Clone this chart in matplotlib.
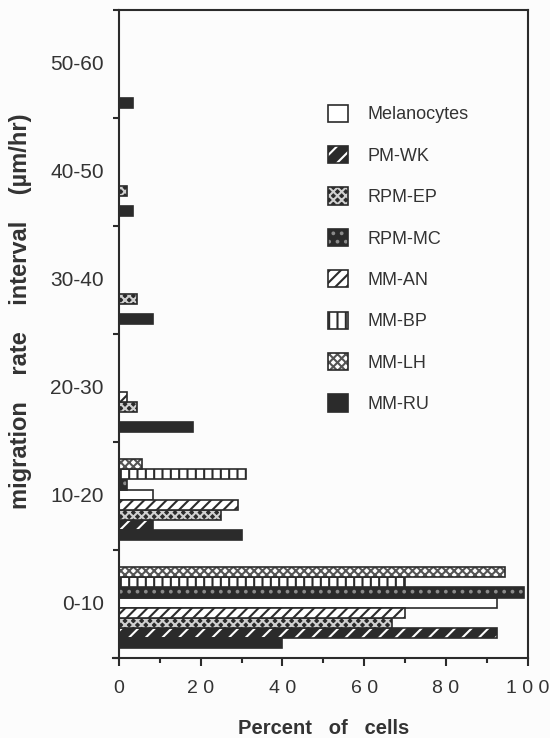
import numpy as np
import matplotlib
matplotlib.use("Agg")
import matplotlib.pyplot as plt
from matplotlib.patches import Patch
from matplotlib.legend_handler import HandlerTuple
from matplotlib.transforms import blended_transform_factory

# rate intervals (um/hr)
intervals = ['0-10', '10-20', '20-30', '30-40', '40-50', '50-60']

# series in legend order, values = percent of cells per interval
series = ['Melanocytes', 'PM-WK', 'RPM-EP', 'RPM-MC', 'MM-AN', 'MM-BP', 'MM-LH', 'MM-RU']
melanocytes = [92.5, 8.2, 0, 0, 0, 0]
pm_wk = [92.5, 8.2, 0, 0, 0, 0]
rpm_ep = [66.8, 25.0, 4.5, 4.3, 2.0, 0]
rpm_mc = [99.0, 2.0, 0, 0, 0, 0]
mm_an = [70.0, 29.0, 2.0, 0, 0, 0]
mm_bp = [70.0, 31.0, 0, 0, 0, 0]
mm_lh = [94.5, 5.7, 0, 0, 0, 0]
mm_ru = [40.0, 30.0, 18.0, 8.3, 3.3, 3.3]
values = [melanocytes, pm_wk, rpm_ep, rpm_mc, mm_an, mm_bp, mm_lh, mm_ru]

# order of bars inside a group, bottom to top
stack_order = ['MM-RU', 'PM-WK', 'RPM-EP', 'MM-AN', 'Melanocytes', 'RPM-MC', 'MM-BP', 'MM-LH']

DARK = '#2b2b2b'
TXT = '#333333'
# fill colour, hatch, hatch colour
looks = {
    'Melanocytes': ('white', None, DARK),
    'PM-WK': (DARK, '//', 'white'),
    'RPM-EP': (DARK, 'xxxx', '#d0d0d0'),
    'RPM-MC': (DARK, '..', '#8a8a8a'),
    'MM-AN': ('white', '///', DARK),
    'MM-BP': ('white', '||', DARK),
    'MM-LH': ('white', 'xxxx', '#555555'),
    'MM-RU': (DARK, None, DARK),
}

plt.rcParams['font.family'] = ['Liberation Sans', 'DejaVu Sans']
plt.rcParams['hatch.linewidth'] = 1.5

fig = plt.figure(figsize=(5.5, 7.38), dpi=100, facecolor='#fcfcfc')
ax = fig.add_axes([0.2164, 0.1084, 0.743, 0.878])
ax.set_facecolor('#fcfcfc')

bar_h = 0.93
base = np.arange(len(intervals)) * 10 + 0.95
for name, vals in zip(series, values):
    k = stack_order.index(name)
    y = base + bar_h * k + bar_h / 2
    face, hatch, hcol = looks[name]
    ax.barh(y, vals, height=bar_h, color=face, edgecolor=hcol, hatch=hatch, linewidth=0)
    ax.barh(y, vals, height=bar_h, fill=False, edgecolor=DARK, linewidth=1.2)

ax.set_xlim(0, 100)
ax.set_ylim(0, 60)
for s in ax.spines.values():
    s.set_linewidth(1.5)
    s.set_color(DARK)
ax.spines['bottom'].set_bounds(-1.5, 100)

ax.set_xticks(np.arange(0, 101, 20))
ax.set_xticks(np.arange(10, 100, 20), minor=True)
ax.set_xticklabels([' '.join(str(v)) for v in range(0, 101, 20)])
ax.set_yticks(np.arange(0, 61, 10))
ax.set_yticklabels([])
ax.tick_params(axis='x', which='major', length=6, width=1.5, pad=10,
               labelsize=14, labelcolor=TXT, color=DARK)
ax.tick_params(axis='x', which='minor', length=3.5, width=1.5, color=DARK)
ax.tick_params(axis='y', length=4, width=1.5, color=DARK)

tr = blended_transform_factory(ax.transAxes, ax.transData)
for i, lab in enumerate(intervals):
    ax.text(-0.037, 10 * i + 5, lab, transform=tr, ha='right', va='center',
            fontsize=15, color=TXT)

ax.set_xlabel('Percent   of   cells', fontsize=14.5, fontweight='bold', color=TXT)
ax.xaxis.set_label_coords(0.5, -0.094)
ax.set_ylabel('migration    rate    interval    (\u00b5m/hr)', fontsize=17,
              fontweight='bold', color=TXT)
ax.yaxis.set_label_coords(-0.212, 0.535)

handles = []
for name in series:
    face, hatch, hcol = looks[name]
    handles.append((Patch(facecolor=face, edgecolor=hcol, hatch=hatch, linewidth=0),
                    Patch(fill=False, edgecolor=DARK, linewidth=1.2)))
ax.legend(handles, series, handler_map={tuple: HandlerTuple(ndivide=1)},
          loc='upper left', bbox_to_anchor=(0.511, 0.854), frameon=False,
          fontsize=13, labelcolor=TXT, handlelength=1.1, handleheight=1.1,
          labelspacing=1.25, handletextpad=1.1, borderpad=0, borderaxespad=0)

fig.savefig('out.png', dpi=100, facecolor=fig.get_facecolor())
